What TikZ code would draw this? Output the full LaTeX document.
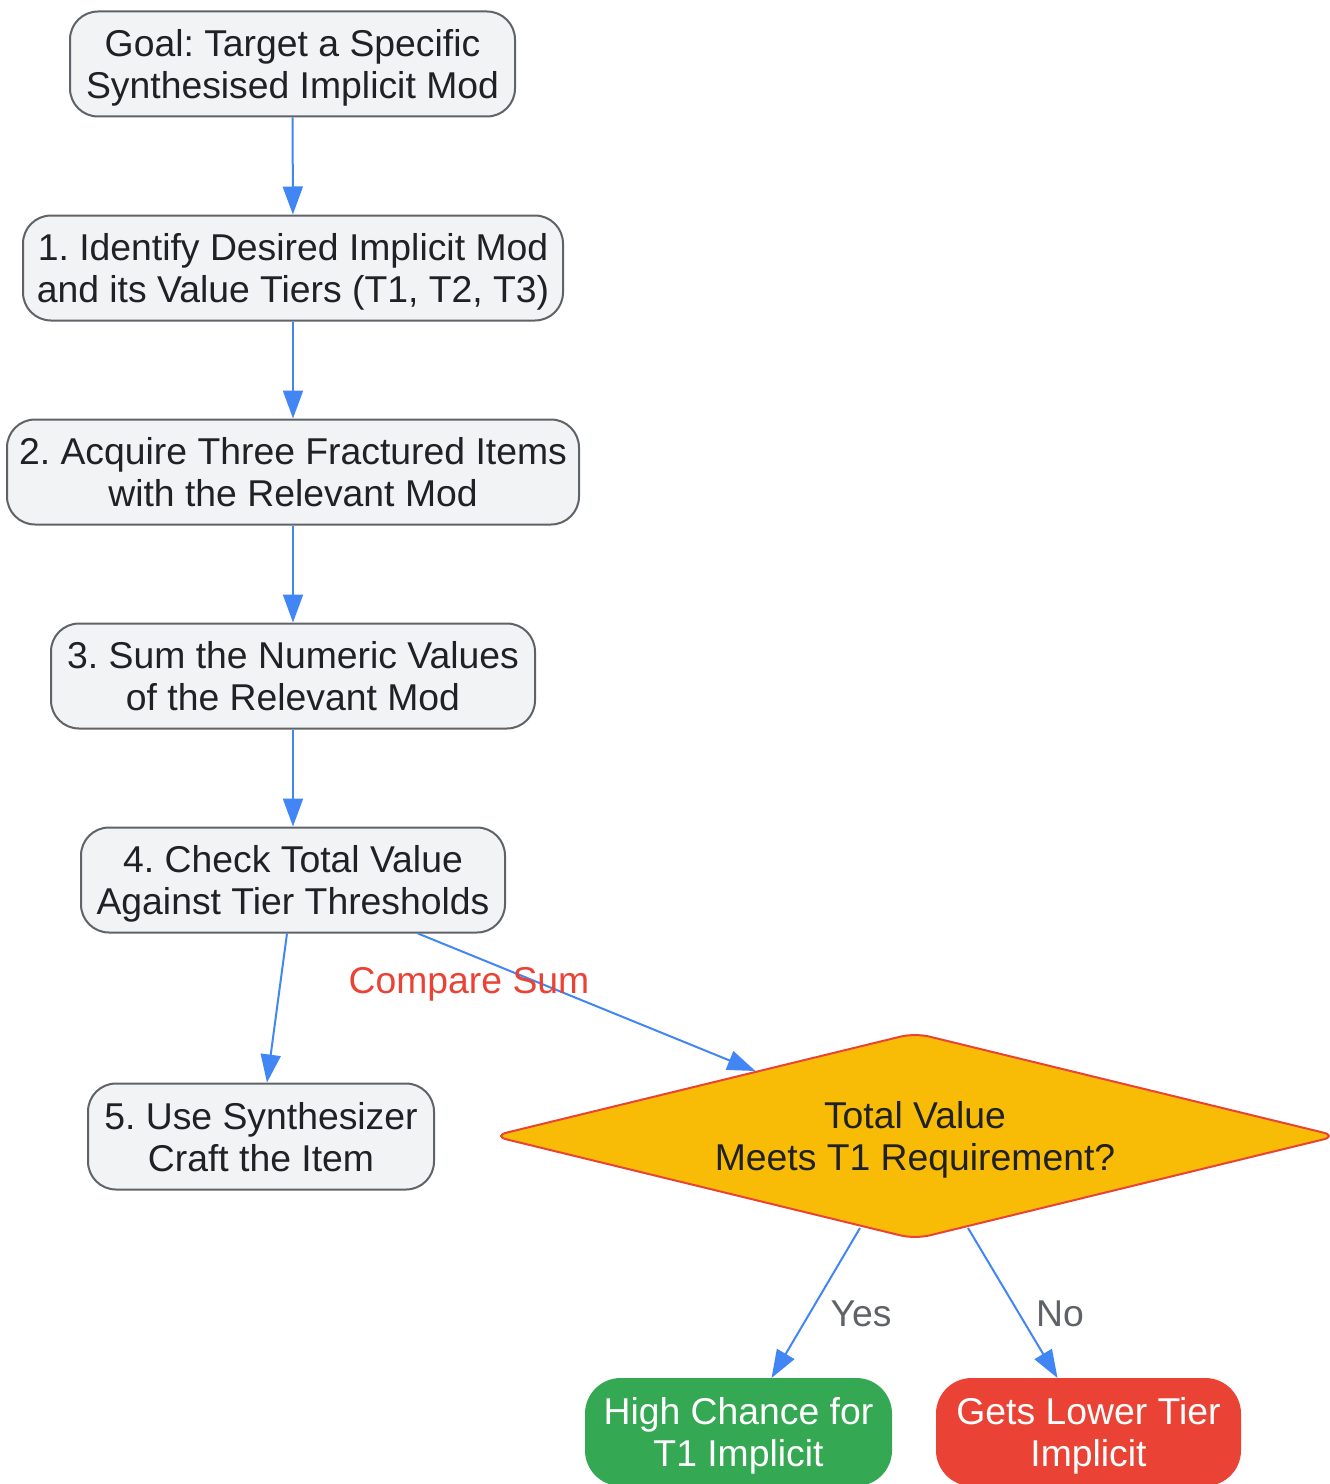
\documentclass[tikz,border=0pt]{standalone}
\usepackage{fontspec}
\setmainfont{Liberation Sans}
\usetikzlibrary{shapes.geometric,arrows.meta,calc}
\definecolor{nodefill}{HTML}{F1F3F5}
\definecolor{nodeborder}{HTML}{5F6368}
\definecolor{txt}{HTML}{202124}
\definecolor{edgeblue}{HTML}{4285F4}
\definecolor{gyellow}{HTML}{F9BC06}
\definecolor{gred}{HTML}{EA4335}
\definecolor{ggreen}{HTML}{34A853}
\definecolor{lblgray}{HTML}{5F6368}
\frenchspacing
\begin{document}
\begin{tikzpicture}[x=0.75pt,y=-0.75pt,
  every node/.style={font=\fontsize{28}{31.5}\selectfont},
  box/.style={draw=nodeborder, fill=nodefill, line width=1.5pt, rounded corners=21pt,
    text=txt, align=center, inner sep=0pt, text depth=0pt, minimum height=78.75pt},
  endbox/.style={fill=#1, draw=#1, line width=1.5pt, rounded corners=26pt, text=white,
    align=center, inner sep=0pt, text depth=0pt, minimum height=79.5pt},
  decision/.style={diamond, aspect=4, draw=gred, fill=gyellow, line width=1.5pt,
    rounded corners=11pt, text=txt, align=center, inner sep=0pt, text depth=0pt,
    minimum width=634pt, minimum height=155pt},
  edge/.style={draw=edgeblue, line width=1.5pt, -{Triangle[length=21pt,width=15pt]}},
  elabel/.style={text=#1, inner sep=0pt}
]
\useasboundingbox (0,0) rectangle (1330,1484);

\node[box, minimum width=333.75pt] (goal) at (292.5,64) {Goal: Target a Specific\\Synthesised Implicit Mod};
\node[box, minimum width=405pt] (n1) at (293,268) {1. Identify Desired Implicit Mod\\and its Value Tiers (T1, T2, T3)};
\node[box, minimum width=429pt] (n2) at (293,472) {2. Acquire Three Fractured Items\\with the Relevant Mod};
\node[box, minimum width=363pt] (n3) at (293,676) {3. Sum the Numeric Values\\of the Relevant Mod};
\node[box, minimum width=318pt] (n4) at (293,880) {4. Check Total Value\\Against Tier Thresholds};
\node[box, minimum width=259.5pt, minimum height=79.5pt] (n5) at (261,1136.5) {5. Use Synthesizer\\Craft the Item};
\node[decision] (dia) at (915,1136) {Total Value\\Meets T1 Requirement?};
\node[endbox=ggreen, minimum width=228.75pt] (yes) at (738.5,1432) {High Chance for\\T1 Implicit};
\node[endbox=gred, minimum width=227.25pt] (no) at (1088.5,1432) {Gets Lower Tier\\Implicit};

\draw[edge] (goal) -- (n1);
\draw[edge] (n1) -- (n2);
\draw[edge] (n2) -- (n3);
\draw[edge] (n3) -- (n4);
\draw[edge] ($(n4.south)+(-6,0)$) -- ($(n5.north)+(6,0)$);
\draw[edge] ($(n4.south)+(125,0)$) -- (dia);
\draw[edge] ($(dia.center)+(-55,92)$) -- ($(yes.north)+(33,0)$);
\draw[edge] ($(dia.center)+(53,92)$) -- ($(no.north)+(-31,0)$);

\node[elabel=gred] (lcmp) at (469,984) {Compare Sum};
\node[elabel=lblgray] (lyes) at (861,1314) {Yes};
\node[elabel=lblgray] (lno) at (1060,1314) {No};
\end{tikzpicture}
\end{document}
